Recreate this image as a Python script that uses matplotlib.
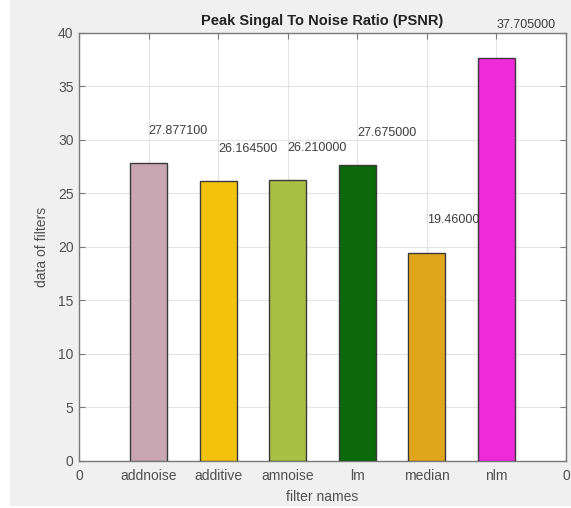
import matplotlib
matplotlib.use("Agg")
import matplotlib.pyplot as plt
from matplotlib.patches import Rectangle

categories = ["addnoise", "additive", "amnoise", "lm", "median", "nlm"]
values = [27.8771, 26.1645, 26.21, 27.675, 19.46, 37.705]
value_labels = ["27.877100", "26.164500", "26.210000", "27.675000", "19.46000", "37.705000"]
colors = ["#c8a7b3", "#f4c20d", "#a9bf45", "#0b690b", "#e1a51b", "#ee2ad9"]
xtick_labels = ["0"] + categories + ["0"]
yticks = [0, 5, 10, 15, 20, 25, 30, 35, 40]

plt.rcParams["font.family"] = ["Liberation Sans", "DejaVu Sans"]

fig = plt.figure(figsize=(5.71, 5.08), dpi=100, facecolor="white")
fig.patches.append(Rectangle((10 / 571, 2 / 508), 1 - 10 / 571, 1 - 2 / 508,
                             transform=fig.transFigure, facecolor="#f0f0f0",
                             edgecolor="none", zorder=-10))

ax = fig.add_axes([79 / 571, (508 - 460.5) / 508, (566 - 79) / 571, (460.5 - 33) / 508])
ax.set_facecolor("white")

positions = list(range(1, len(categories) + 1))
ax.bar(positions, values, width=0.53, color=colors, edgecolor="#3a3a3a",
       linewidth=1.0, zorder=3)

for p, v, lab in zip(positions, values, value_labels):
    ax.text(p, v + 3, lab, ha="left", va="center", fontsize=9, color="#3c3c3c",
            zorder=4, clip_on=False)

ax.set_xlim(0, 7)
ax.set_ylim(0, 40)
ax.set_xticks(range(0, 8))
ax.set_xticklabels(xtick_labels)
ax.set_yticks(yticks)
ax.grid(True, color="#e4e4e4", linewidth=0.8, zorder=0)
ax.set_axisbelow(True)

ax.tick_params(axis="both", direction="in", length=4, width=0.8, colors="#7a7a7a",
               labelcolor="#505050", labelsize=10, top=True, right=True)
ax.tick_params(axis="x", pad=6)
ax.tick_params(axis="y", pad=4)
for s in ax.spines.values():
    s.set_color("#7a7a7a")
    s.set_linewidth(1.0)

ax.set_title("Peak Singal To Noise Ratio (PSNR)", fontsize=10.5, fontweight="bold",
             color="#222222", pad=6)
ax.set_xlabel("filter names", fontsize=10, color="#505050", labelpad=5)
ax.set_ylabel("data of filters", fontsize=10, color="#505050", labelpad=6)

fig.savefig("out.png", dpi=100, facecolor=fig.get_facecolor())
